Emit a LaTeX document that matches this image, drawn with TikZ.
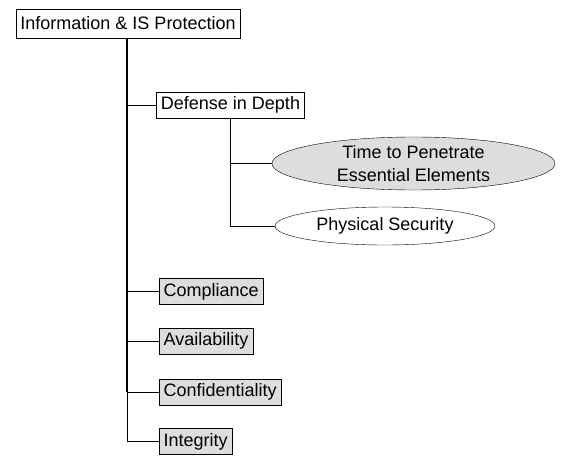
\documentclass[tikz,border=0pt]{standalone}
\usepackage{fontspec}
\setmainfont{Liberation Sans}
\usetikzlibrary{shapes.geometric}
\definecolor{boxgray}{HTML}{DDDDDD}
\begin{document}
\begin{tikzpicture}[x=1pt,y=-1pt,
  every node/.style={font=\fontsize{18}{23}\selectfont},
  plainbox/.style={draw,thin,fill=white,inner xsep=4.5pt,inner ysep=0pt,minimum height=26pt},
  graybox/.style={plainbox,fill=boxgray},
  ell/.style={draw,thin,ellipse,inner sep=0pt,align=center},
  trunk/.style={line width=1.6pt},
  twig/.style={line width=0.9pt}]
\useasboundingbox (0,0) rectangle (577,455);
\node[plainbox,minimum height=29pt] (root) at (128,23.5) {Information \& IS Protection};
\node[plainbox] (did) at (230.5,105) {Defense in Depth};
\node[ell,fill=boxgray,minimum width=283pt,minimum height=53pt] (time) at (413.5,163.5) {Time to Penetrate\\Essential Elements};
\node[ell,fill=white,minimum width=220pt,minimum height=38pt] (phys) at (385,226) {Physical Security};
\node[graybox,anchor=west] (comp) at (159,291.5) {Compliance};
\node[graybox,anchor=west] (avail) at (159,341) {Availability};
\node[graybox,anchor=west] (conf) at (159,392) {Confidentiality};
\node[graybox,anchor=west] (integ) at (159,441.5) {Integrity};
\coordinate (t0) at (127,38);
\draw[trunk] (root.south -| t0) -- (t0 |- conf.west);
\draw[twig] (t0 |- conf.west) -- (t0 |- integ.west) -- (integ.west);
\foreach \n in {did,comp,avail,conf}{\draw[twig] (t0 |- \n.west) -- (\n.west);}
\draw[trunk] (did.south) -- (did.south |- time.west);
\draw[twig] (did.south |- time.west) -- (did.south |- phys.west) -- (phys.west);
\draw[twig] (did.south |- time.west) -- (time.west);
\end{tikzpicture}
\end{document}
